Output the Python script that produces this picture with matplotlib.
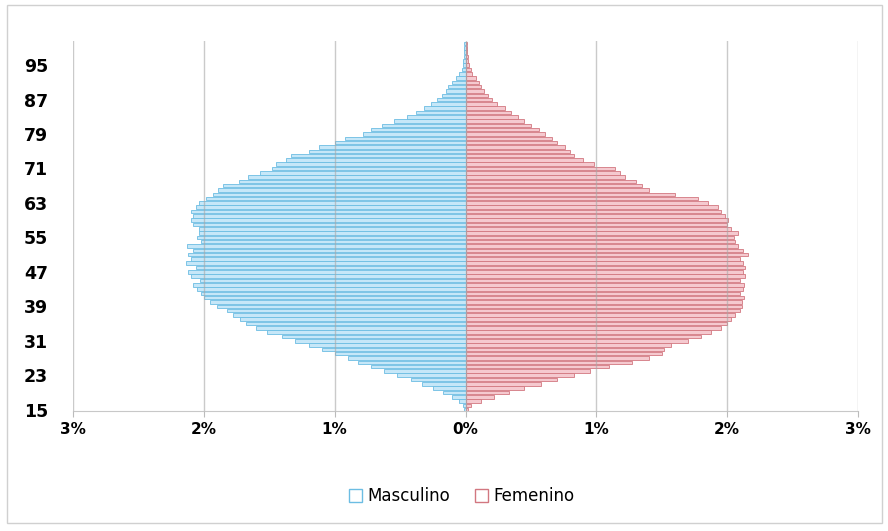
import matplotlib
matplotlib.use("Agg")
import matplotlib.pyplot as plt
from matplotlib.patches import Patch, Rectangle

# edades 15..100
edades = list(range(15, 101))

# porcentaje de poblacion por edad (masculino)
masculino = [0.01, 0.02, 0.05, 0.10, 0.17, 0.25, 0.33, 0.42, 0.52, 0.62,
             0.72, 0.82, 0.90, 1.00, 1.10, 1.20, 1.30, 1.40, 1.52, 1.60,
             1.68, 1.72, 1.78, 1.82, 1.90, 1.95, 2.00, 2.02, 2.05, 2.08,
             2.03, 2.10, 2.12, 2.06, 2.14, 2.10, 2.12, 2.08, 2.13, 2.02,
             2.05, 2.04, 2.04, 2.08, 2.10, 2.08, 2.10, 2.06, 2.04, 1.98,
             1.93, 1.89, 1.85, 1.73, 1.66, 1.57, 1.48, 1.45, 1.37, 1.33,
             1.20, 1.12, 1.00, 0.92, 0.78, 0.72, 0.64, 0.55, 0.45, 0.38,
             0.32, 0.26, 0.22, 0.18, 0.15, 0.13, 0.10, 0.07, 0.05, 0.03,
             0.02, 0.02, 0.01, 0.01, 0.01, 0.01]

# porcentaje de poblacion por edad (femenino)
femenino = [0.02, 0.04, 0.12, 0.22, 0.33, 0.45, 0.58, 0.70, 0.83, 0.95,
            1.10, 1.27, 1.40, 1.50, 1.52, 1.57, 1.70, 1.80, 1.88, 1.95,
            2.00, 2.03, 2.06, 2.10, 2.11, 2.11, 2.13, 2.10, 2.12, 2.13,
            2.10, 2.14, 2.12, 2.14, 2.12, 2.10, 2.16, 2.12, 2.08, 2.06,
            2.05, 2.08, 2.03, 2.00, 2.01, 1.98, 1.95, 1.93, 1.85, 1.78,
            1.60, 1.40, 1.35, 1.30, 1.22, 1.18, 1.14, 0.98, 0.90, 0.83,
            0.80, 0.76, 0.70, 0.66, 0.61, 0.56, 0.50, 0.45, 0.40, 0.35,
            0.30, 0.24, 0.20, 0.17, 0.14, 0.12, 0.10, 0.08, 0.05, 0.04,
            0.03, 0.02, 0.02, 0.01, 0.01, 0.01]

ticks_y = list(range(15, 96, 8))
ticks_x = [-3, -2, -1, 0, 1, 2, 3]
etiquetas_x = ["3%", "2%", "1%", "0%", "1%", "2%", "3%"]

fig = plt.figure(figsize=(8.88, 5.31), dpi=100)
fig.patches.append(Rectangle((0.008, 0.015), 0.985, 0.975, transform=fig.transFigure,
                             fill=False, edgecolor="#d0d0d0", linewidth=1))
ax = fig.add_axes([73 / 888, 1 - 411 / 531, (858 - 73) / 888, (411 - 41) / 531])

azul_f, azul_b = "#c6e7f8", "#6cbde3"
rosa_f, rosa_b = "#f5c9cf", "#d27780"

ax.barh(edades, [-v for v in masculino], height=0.82, color=azul_f,
        edgecolor=azul_b, linewidth=0.6, label="Masculino", zorder=2)
ax.barh(edades, femenino, height=0.82, color=rosa_f,
        edgecolor=rosa_b, linewidth=0.6, label="Femenino", zorder=2)

ax.set_xlim(-3, 3)
ax.set_ylim(14.7, 100.6)
ax.set_xticks(ticks_x)
ax.set_xticklabels(etiquetas_x, fontsize=11, fontweight="bold")
ax.set_yticks(ticks_y)
ax.set_yticklabels([str(t) for t in ticks_y], fontsize=12.5, fontweight="bold")
ax.tick_params(axis="y", length=0, pad=18)
ax.tick_params(axis="x", length=4, color="#bbbbbb", pad=4)

ax.grid(axis="x", color="#a8a8a8", linewidth=1, alpha=0.6, zorder=3)
ax.set_axisbelow(False)
for s in ["top", "right", "left"]:
    ax.spines[s].set_visible(False)
ax.spines["bottom"].set_color("#c8c8c8")

handles = [Patch(facecolor="white", edgecolor=azul_b, linewidth=1),
           Patch(facecolor="white", edgecolor=rosa_b, linewidth=1)]
fig.legend(handles, ["Masculino", "Femenino"], loc="center", ncol=2,
           bbox_to_anchor=(0.52, 0.065), frameon=False, fontsize=12,
           handlelength=0.8, handleheight=0.8, handletextpad=0.3, columnspacing=1.5)

plt.savefig("out.png", dpi=100)
